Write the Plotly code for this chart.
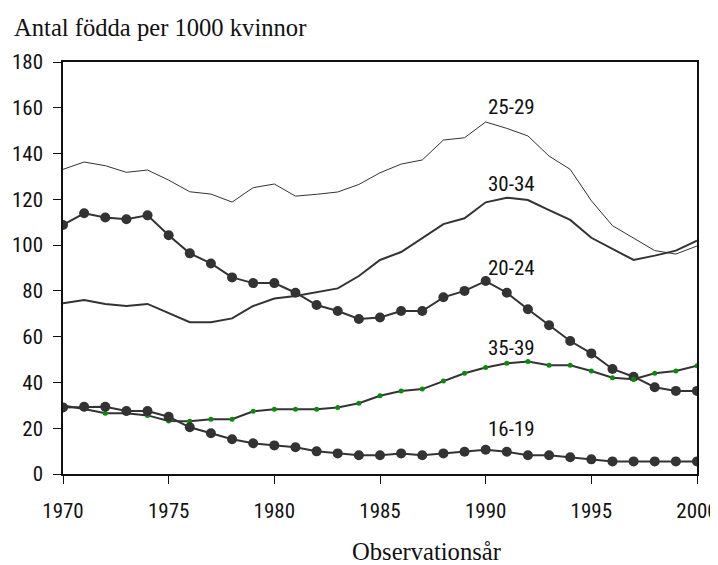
import plotly.graph_objects as go

years = list(range(1970, 2001))

age_25_29 = [133.1, 136.3, 134.7, 131.8, 132.8, 128.4, 123.3, 122.3, 118.8, 125.1,
             126.7, 121.4, 122.2, 123.2, 126.5, 131.6, 135.4, 137.2, 145.9, 146.9,
             153.8, 151.0, 147.7, 138.9, 133.1, 119.4, 108.5, 103.0, 97.6, 96.1, 99.6]
age_30_34 = [74.6, 76.0, 74.3, 73.4, 74.3, 70.2, 66.3, 66.3, 68.0, 73.4,
             76.7, 77.8, 79.4, 81.1, 86.5, 93.5, 97.0, 103.0, 109.2, 111.7,
             118.7, 120.7, 119.7, 115.3, 111.0, 103.2, 98.3, 93.5, 95.4, 97.6, 101.9]
age_20_24 = [108.8, 113.9, 112.1, 111.3, 113.0, 104.3, 96.4, 92.0, 85.9, 83.4,
             83.4, 79.2, 73.8, 71.2, 67.7, 68.4, 71.2, 71.2, 77.2, 80.0,
             84.3, 79.2, 72.0, 65.0, 58.1, 52.7, 45.9, 42.5, 37.9, 36.3, 36.3]
age_35_39 = [29.9, 28.4, 26.5, 26.5, 25.6, 23.2, 23.0, 23.9, 23.9, 27.4,
             28.3, 28.3, 28.3, 29.1, 30.9, 34.2, 36.3, 37.1, 40.6, 44.0,
             46.5, 48.4, 49.1, 47.5, 47.5, 45.0, 42.1, 41.4, 44.0, 45.0, 47.3]
age_16_19 = [29.1, 29.4, 29.4, 27.5, 27.5, 25.0, 20.4, 17.8, 15.2, 13.4,
             12.5, 11.7, 9.9, 9.0, 8.2, 8.2, 9.0, 8.2, 9.0, 9.7,
             10.6, 9.7, 8.2, 8.2, 7.3, 6.4, 5.5, 5.5, 5.5, 5.5, 5.5]

series_labels = ["25-29", "30-34", "20-24", "35-39", "16-19"]
label_x = [1991.2, 1991.2, 1991.2, 1991.2, 1991.2]
label_y = [160.5, 126.5, 90.0, 55.0, 19.5]

y_ticks = list(range(0, 181, 20))
x_ticks = [1970, 1975, 1980, 1985, 1990, 1995, 2000]

LINE = "#333333"
GREEN = "#0a8a0a"
NARROW = "Liberation Sans Narrow, Arial Narrow, Roboto Condensed, Liberation Sans, sans-serif"
TICKFONT = dict(family=NARROW, size=21, color="#111111")
SERIF = "Palatino Linotype, Book Antiqua, Liberation Serif, DejaVu Serif, serif"

fig = go.Figure()
fig.add_trace(go.Scatter(x=years, y=age_25_29, mode="lines", line=dict(color=LINE, width=1), name="25-29"))
fig.add_trace(go.Scatter(x=years, y=age_30_34, mode="lines", line=dict(color=LINE, width=2), name="30-34"))
fig.add_trace(go.Scatter(x=years, y=age_20_24, mode="lines+markers", line=dict(color=LINE, width=2),
                         marker=dict(color=LINE, size=10), name="20-24"))
fig.add_trace(go.Scatter(x=years, y=age_35_39, mode="lines+markers", line=dict(color=LINE, width=2),
                         marker=dict(color=GREEN, size=5), name="35-39"))
fig.add_trace(go.Scatter(x=years, y=age_16_19, mode="lines+markers", line=dict(color=LINE, width=2),
                         marker=dict(color=LINE, size=10), name="16-19"))

for lab, lx, ly in zip(series_labels, label_x, label_y):
    fig.add_annotation(x=lx, y=ly, text=lab, showarrow=False,
                       font=dict(family=NARROW, size=21, color="#111111"))

# the page places the figure at an 8px offset; paper coords below account for that
fig.add_annotation(xref="paper", yref="paper", x=-0.0804, y=1.046, xanchor="left", yanchor="bottom",
                   text="Antal födda per 1000 kvinnor", showarrow=False,
                   font=dict(family=SERIF, size=24.6, color="#111111"))
fig.add_annotation(xref="paper", yref="paper", x=0.5726, y=-0.189, xanchor="center", yanchor="middle",
                   text="Observationsår", showarrow=False,
                   font=dict(family=SERIF, size=24.6, color="#111111"))

fig.update_layout(
    width=710, height=557,
    margin=dict(l=55, r=21, t=54, b=91),
    paper_bgcolor="white", plot_bgcolor="white",
    showlegend=False,
    xaxis=dict(range=[1970, 2000], tickvals=x_ticks, ticks="outside", ticklen=8, tickwidth=1,
               tickcolor="#111111", showline=True, linecolor="#111111", linewidth=1.5, mirror=True,
               showgrid=False, zeroline=False, tickfont=TICKFONT, ticklabelstandoff=9,
               automargin=False),
    yaxis=dict(range=[0, 180], tickvals=y_ticks, ticks="outside", ticklen=8, tickwidth=1,
               tickcolor="#111111", showline=True, linecolor="#111111", linewidth=1.5, mirror=True,
               showgrid=False, zeroline=False, tickfont=TICKFONT, ticklabelstandoff=6,
               automargin=False),
)

fig.write_html("out.html")
